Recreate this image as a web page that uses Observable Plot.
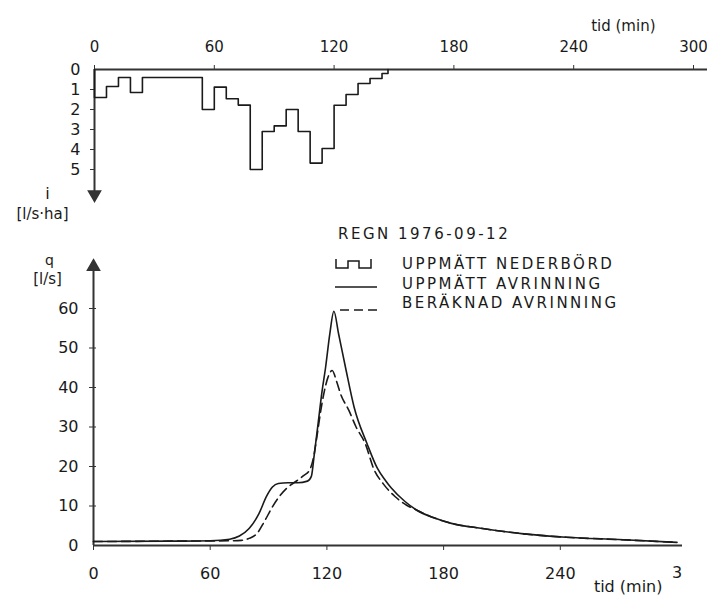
<!DOCTYPE html>
<html>
<head>
<meta charset="utf-8">
<script src="https://cdn.jsdelivr.net/npm/d3@7"></script>
<script src="https://cdn.jsdelivr.net/npm/@observablehq/plot@0.6"></script>
<style>
  html, body { margin: 0; padding: 0; background: #fff; }
  #wrap { position: relative; width: 707px; height: 600px; overflow: hidden; font-family: "DejaVu Sans", sans-serif; color: #222; }
  #topPlot, #bottomPlot, #legend { position: absolute; left: 0; }
  #topPlot { top: 0; }
  #bottomPlot { top: 225px; }
  #legend { top: 0; pointer-events: none; }
</style>
</head>
<body>
<div id="wrap">
  <div id="topPlot"></div>
  <div id="bottomPlot"></div>
  <svg id="legend" width="707" height="600"></svg>
</div>
<script>
// ---- data ----
const xTicks = [0, 60, 120, 180, 240, 300];
const xTicksBottom = [0, 60, 120, 180, 240];
const iTicks = [0, 1, 2, 3, 4, 5];
const qTicks = [0, 10, 20, 30, 40, 50, 60];

// rainfall intensity (l/s·ha), step starts (min)
const rainT = [0, 0, 6, 12, 18, 24, 54, 60, 66, 72, 78, 84, 90, 96, 102, 108, 114, 120, 126, 132, 138, 144, 147];
const rainI = [0, 1.4, 0.85, 0.4, 1.15, 0.4, 2.0, 0.88, 1.46, 1.78, 5.0, 3.1, 2.82, 2.0, 3.1, 4.68, 3.95, 1.79, 1.25, 0.7, 0.45, 0.2, 0];

// measured runoff (l/s)
const obsT = [0, 40, 60, 70, 75, 80, 85, 89, 92, 95, 100, 105, 110, 112, 113.5, 115.5, 117.5, 119.3, 121.5, 123.6, 126, 129.6, 134, 140.7, 146, 150, 153, 160, 166, 175, 184, 200, 210, 220, 243, 270, 300];
const obsQ = [1.0, 1.1, 1.2, 1.6, 2.4, 4.3, 8.0, 12.5, 14.8, 15.7, 15.9, 15.9, 16.3, 17.5, 23, 31, 39, 45, 53.6, 59.3, 53.6, 45, 35, 25.7, 19.5, 16.5, 14.6, 11.2, 9.0, 7.0, 5.6, 4.3, 3.6, 3.0, 2.1, 1.5, 0.8];

// computed runoff (l/s)
const calcT = [0, 40, 70, 76, 80, 84, 88, 92, 96, 100, 104, 108, 111, 113, 115, 116.8, 118.4, 120.5, 122.7, 125, 127, 131.3, 135, 139.8, 144, 149, 155, 161, 166, 175, 184, 200, 210, 220, 243, 270, 300];
const calcQ = [1.0, 1.1, 1.2, 1.3, 1.8, 3.0, 6.2, 9.8, 12.7, 14.8, 16.2, 17.7, 19, 22, 28, 34, 38.4, 42.5, 44.3, 41.5, 38.4, 34.2, 30, 25.7, 19.5, 15.6, 12.4, 10.2, 9.0, 7.0, 5.6, 4.3, 3.6, 3.0, 2.1, 1.5, 0.8];

const rain = rainT.map((t, k) => ({t, i: rainI[k]}));
const obs = obsT.map((t, k) => ({t, q: obsQ[k]}));
const calc = calcT.map((t, k) => ({t, q: calcQ[k]}));

const ink = "#1a1a1a";
const axisInk = "#333";
const font = {fontFamily: "DejaVu Sans, sans-serif", fontSize: "16px", color: ink, background: "transparent", overflow: "visible"};

// ---- top: hyetograph ----
const topChart = Plot.plot({
  width: 707, height: 225,
  marginLeft: 94, marginRight: 0, marginTop: 69, marginBottom: 25,
  style: font,
  x: {domain: [0, 300], range: [94, 693]},
  y: {domain: [0, 6.55], reverse: true},
  marks: [
    Plot.axisX({anchor: "top", ticks: xTicks, tickSize: 5, tickPadding: 13, fontSize: 15, tickFormat: d => String(d), label: null, stroke: axisInk}),
    Plot.axisY({anchor: "left", ticks: [1, 2, 3, 4, 5], tickSize: 4, tickFormat: () => "", label: null, stroke: axisInk}),
    Plot.axisY({anchor: "left", ticks: iTicks, tickSize: 0, tickPadding: 14, tickFormat: d => String(d), label: null}),
    Plot.ruleY([0], {stroke: axisInk, strokeWidth: 2}),
    Plot.ruleX([0], {y1: 0, y2: 6.2, stroke: axisInk, strokeWidth: 2}),
    Plot.dot([{t: 0, i: 6.25}], {x: "t", y: "i", symbol: "triangle", rotate: 180, r: 4.5, fill: axisInk, stroke: axisInk}),
    Plot.line(rain, {x: "t", y: "i", curve: "step-after", stroke: ink, strokeWidth: 1.6}),
    Plot.text(["tid (min)"], {frameAnchor: "top-right", dx: -52, dy: -49, fontSize: 15, textAnchor: "end"}),
    Plot.text(["i"], {frameAnchor: "bottom-left", dx: -47, dy: -2, fontSize: 16, textAnchor: "middle"}),
    Plot.text(["[l/s·ha]"], {frameAnchor: "bottom-left", dx: -52, dy: 18, fontSize: 15, textAnchor: "middle"})
  ]
});
document.getElementById("topPlot").append(topChart);

// ---- bottom: runoff ----
const bottomChart = Plot.plot({
  width: 707, height: 375,
  marginLeft: 93, marginRight: 25, marginTop: 33, marginBottom: 55,
  style: font,
  x: {domain: [0, 300], range: [93, 676.5]},
  y: {domain: [0, 72.66]},
  marks: [
    Plot.axisX({anchor: "bottom", ticks: xTicksBottom, tickSize: 5, tickPadding: 17, tickFormat: d => String(d), label: null, stroke: axisInk}),
    Plot.text([300], {x: d => d, frameAnchor: "bottom", dy: 32, text: () => "3", fontSize: 16}),
    Plot.axisY({anchor: "left", ticks: qTicks.slice(1), tickSize: 4, tickFormat: () => "", label: null, stroke: axisInk}),
    Plot.axisY({anchor: "left", ticks: qTicks.slice(1), tickSize: -3, tickFormat: () => "", label: null, stroke: axisInk}),
    Plot.axisY({anchor: "left", ticks: qTicks, tickSize: 0, tickPadding: 15, tickFormat: d => String(d), label: null}),
    Plot.ruleY([0], {stroke: axisInk, strokeWidth: 2}),
    Plot.ruleX([0], {y1: 0, y2: 71, stroke: axisInk, strokeWidth: 2}),
    Plot.dot([{t: 0, q: 70.6}], {x: "t", y: "q", symbol: "triangle", r: 4.5, fill: axisInk, stroke: axisInk}),
    Plot.line(calc, {x: "t", y: "q", curve: "monotone-x", stroke: ink, strokeWidth: 1.6, strokeDasharray: "9,5"}),
    Plot.line(obs, {x: "t", y: "q", curve: "monotone-x", stroke: ink, strokeWidth: 1.6}),
    Plot.text(["tid (min)"], {frameAnchor: "bottom-right", dx: -20, dy: 46, fontSize: 16, textAnchor: "end"}),
    Plot.text(["q"], {frameAnchor: "top-left", dx: -44, dy: -3, fontSize: 14, textAnchor: "middle"}),
    Plot.text(["[l/s]"], {frameAnchor: "top-left", dx: -46, dy: 15, fontSize: 15, textAnchor: "middle"})
  ]
});
document.getElementById("bottomPlot").append(bottomChart);

// ---- legend ----
const legendTitle = "REGN 1976-09-12";
const legendItems = ["UPPMÄTT NEDERBÖRD", "UPPMÄTT AVRINNING", "BERÄKNAD AVRINNING"];
const lg = d3.select("#legend");
const tf = {"font-family": "DejaVu Sans, sans-serif", "font-size": "15px", "letter-spacing": "2.5px", fill: ink};
const titleEl = lg.append("text").attr("x", 338).attr("y", 239).text(legendTitle);
Object.entries(tf).forEach(([k, v]) => titleEl.attr(k, v));
[269, 289, 308].forEach((yy, k) => {
  const t = lg.append("text").attr("x", 402).attr("y", yy).text(legendItems[k]);
  Object.entries(tf).forEach(([kk, v]) => t.attr(kk, v));
});
lg.append("path").attr("d", "M336,259V268H348V261H359V268H371V259")
  .attr("fill", "none").attr("stroke", ink).attr("stroke-width", 1.5);
lg.append("path").attr("d", "M335,287H377").attr("stroke", ink).attr("stroke-width", 1.5);
lg.append("path").attr("d", "M340,310H381").attr("stroke", ink).attr("stroke-width", 1.5).attr("stroke-dasharray", "9,5");
</script>
</body>
</html>
